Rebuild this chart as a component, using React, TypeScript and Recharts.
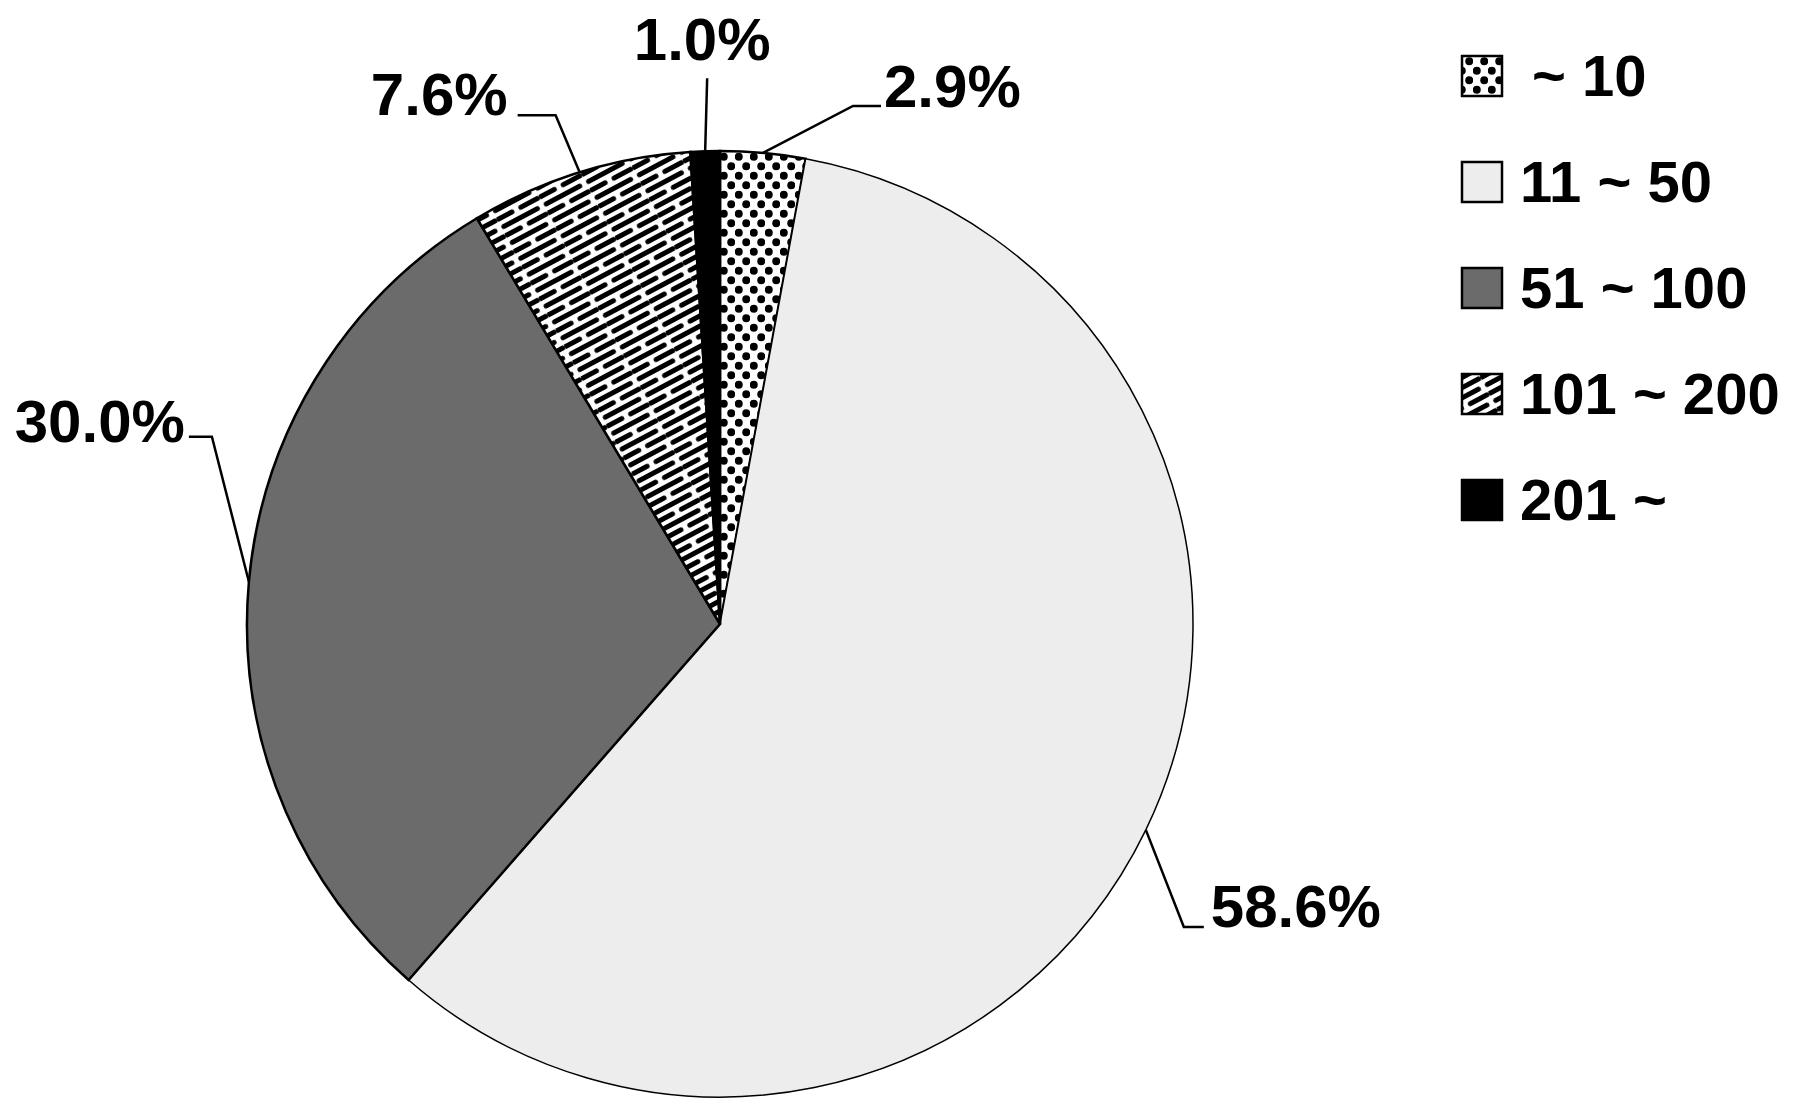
import { Cell, Legend, Pie, PieChart } from "recharts";

const categories = ["~ 10", "11 ~ 50", "51 ~ 100", "101 ~ 200", "201 ~"];
const shares = [2.9, 58.6, 30.0, 7.6, 1.0];
const fills = ["url(#dots)", "#ededed", "#6b6b6b", "url(#dashes)", "#000000"];

// leader line elbow offset from the rim, horizontal run, text nudge
const labelLayout = [
  { dx: 90, dy: -47, run: 28, tx: 3, ty: 1, anchor: "start" },
  { dx: 38, dy: 97, run: 20, tx: 7, ty: 0, anchor: "start" },
  { dx: -37, dy: -145, run: -23, tx: -4, ty: 5, anchor: "end" },
  { dx: -24, dy: -57, run: -38, tx: -10, ty: 0, anchor: "end" },
  { dx: 2, dy: -73, run: 0, tx: -5, ty: -18, anchor: "middle" },
];

const data = categories.map((name, i) => ({ name, value: shares[i] }));
const FONT = "'Liberation Sans', Arial, sans-serif";
const RAD = Math.PI / 180;

function renderLabel(props: any) {
  const { cx, cy, midAngle, outerRadius, index, value } = props;
  const l = labelLayout[index];
  const x0 = cx + outerRadius * Math.cos(-midAngle * RAD);
  const y0 = cy + outerRadius * Math.sin(-midAngle * RAD);
  const x1 = x0 + l.dx;
  const y1 = y0 + l.dy;
  const x2 = x1 + l.run;
  return (
    <g key={`lbl-${index}`}>
      <polyline points={`${x0},${y0} ${x1},${y1} ${x2},${y1}`} fill="none" stroke="#000" strokeWidth={2.5} />
      <text
        x={x2 + l.tx}
        y={y1 + l.ty}
        textAnchor={l.anchor}
        fontFamily={FONT}
        fontWeight="bold"
        fontSize={60}
        fill="#000"
      >
        {`${Number(value).toFixed(1)}%`}
      </text>
    </g>
  );
}

function LegendBox() {
  return (
    <svg width={330} height={520}>
      {categories.map((c, i) => {
        const cyRow = 48 + i * 106;
        return (
          <g key={c}>
            <rect x={4} y={cyRow - 20} width={40} height={40} fill={fills[i]} stroke="#000" strokeWidth={2.5} />
            <text
              x={i === 0 ? 74 : 62}
              y={cyRow + 20}
              fontFamily={FONT}
              fontWeight="bold"
              fontSize={58}
              fill="#000"
            >
              {c}
            </text>
          </g>
        );
      })}
    </svg>
  );
}

export default function App() {
  return (
    <div style={{ position: "relative", width: 1795, height: 1114, margin: "-8px 0 0 -8px" }}>
      <svg width={0} height={0} style={{ position: "absolute" }}>
        <defs>
          <pattern id="dots" width={15} height={19} patternUnits="userSpaceOnUse">
            <rect width={15} height={19} fill="#fff" />
            <circle cx={3.75} cy={4.75} r={4} fill="#000" />
            <circle cx={11.25} cy={14.25} r={4} fill="#000" />
          </pattern>
          <pattern id="dashes" width={48} height={18} patternUnits="userSpaceOnUse" patternTransform="rotate(-28)">
            <rect width={48} height={18} fill="#fff" />
            <rect x={0} y={2} width={43} height={5} rx={2.5} fill="#000" />
            <rect x={24} y={11} width={24} height={5} rx={2.5} fill="#000" />
            <rect x={-5} y={11} width={24} height={5} rx={2.5} fill="#000" />
          </pattern>
        </defs>
      </svg>
      <PieChart width={1795} height={1114} margin={{ top: 0, right: 0, bottom: 0, left: 0 }}>
        <Pie
          data={data}
          dataKey="value"
          nameKey="name"
          cx={720}
          cy={624}
          outerRadius={473}
          startAngle={90}
          endAngle={-270}
          label={renderLabel}
          labelLine={false}
          isAnimationActive={false}
        >
          {data.map((d, i) => (
            <Cell key={d.name} fill={fills[i]} stroke="#000" strokeWidth={i === 1 ? 1.5 : 2.5} />
          ))}
        </Pie>
        <Legend
          layout="vertical"
          align="right"
          verticalAlign="top"
          content={() => <LegendBox />}
          wrapperStyle={{ position: "absolute", left: 1458, top: 28, width: 330, height: 520 }}
        />
      </PieChart>
    </div>
  );
}
